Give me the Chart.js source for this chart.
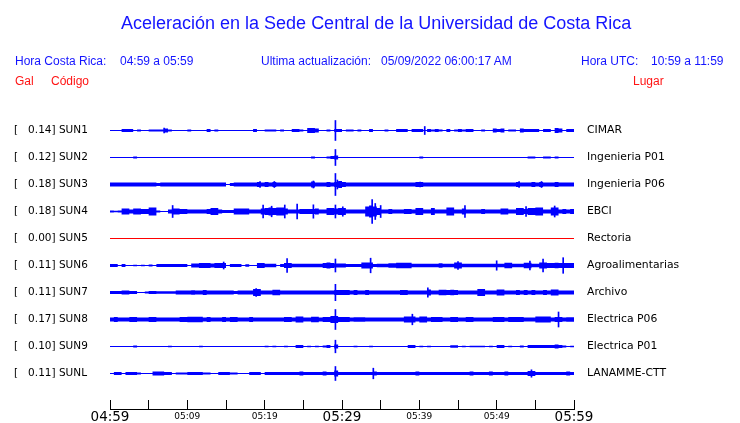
<!DOCTYPE html>
<html>
<head>
<meta charset="utf-8">
<script src="https://cdn.jsdelivr.net/npm/chart.js@4.4.0/dist/chart.umd.min.js"></script>
<style>
  body { margin: 0; background: #fff; }
  #wrap { position: relative; width: 740px; height: 423px; overflow: hidden; }
  #sismo { position: absolute; left: 0; top: 0; }
  .t { position: absolute; white-space: nowrap; line-height: 1; font-family: "Liberation Sans", Arial, sans-serif; }
  .azul { color: #1414ff; font-size: 12px; }
  .rojo { color: #ff1414; font-size: 12px; }
</style>
</head>
<body>
<div id="wrap">
  <canvas id="sismo" width="740" height="423"></canvas>
  <div class="t" style="left:121px;top:14px;font-size:18px;color:#1414ff">Aceleración en la Sede Central de la Universidad de Costa Rica</div>
  <div class="t azul" style="left:15px;top:55px">Hora Costa Rica:</div>
  <div class="t azul" style="left:120px;top:55px">04:59 a 05:59</div>
  <div class="t azul" style="left:261px;top:55px">Ultima actualización:</div>
  <div class="t azul" style="left:381px;top:55px">05/09/2022 06:00:17 AM</div>
  <div class="t azul" style="left:581px;top:55px">Hora UTC:</div>
  <div class="t azul" style="left:651px;top:55px">10:59 a 11:59</div>
  <div class="t rojo" style="left:15px;top:75px">Gal</div>
  <div class="t rojo" style="left:51px;top:75px">Código</div>
  <div class="t rojo" style="left:633px;top:75px">Lugar</div>
</div>
<script>
// estaciones
const codes = ['SUN1', 'SUN2', 'SUN3', 'SUN4', 'SUN5', 'SUN6', 'SUN7', 'SUN8', 'SUN9', 'SUNL'];
const peaks = ['0.14', '0.12', '0.18', '0.18', '0.00', '0.11', '0.11', '0.17', '0.10', '0.11'];
const places = ['CIMAR', 'Ingenieria P01', 'Ingenieria P06', 'EBCI', 'Rectoria', 'Agroalimentarias',
  'Archivo', 'Electrica P06', 'Electrica P01', 'LANAMME-CTT'];
const traceColors = ['#0000ff', '#0000ff', '#0000ff', '#0000ff', '#ff0000', '#0000ff', '#0000ff', '#0000ff', '#0000ff', '#0000ff'];

// eje de tiempo (minutos desde 04:59)
const tickMinutes = [0, 5, 10, 15, 20, 25, 30, 35, 40, 45, 50, 55, 60];
const tickLabels = ['04:59', '', '05:09', '', '05:19', '', '05:29', '', '05:39', '', '05:49', '', '05:59'];
const bigTicks = [0, 30, 60];

// envolvente de cada traza, medio alto en px, bloques de 30 s
const binMinutes = 0.5;
const sun1Amp = [
  0, 0, 0, 1.5, 1.5, 1.5, 0, 1, 0, 0, 1, 1, 1, 1, 2, 1, 0, 0, 0, 0,
  1, 0, 0, 0, 0, 1.5, 0, 1, 0, 0, 0, 0, 0, 0, 0, 0, 0, 1.5, 0, 0,
  1, 1, 1, 0, 1, 0, 0, 1.5, 1.5, 1, 0, 2.5, 2.5, 2, 0, 0, 1, 0, 1.5, 1.5,
  0, 1, 1, 0, 1, 0, 0, 1.5, 0, 0, 0, 1, 0, 0, 1.5, 1.5, 1.5, 0, 1.5, 1.5,
  1.5, 0, 1.5, 1, 1.5, 1, 0, 1.5, 0, 1, 1.5, 1, 1.5, 1.5, 0, 0, 1, 0, 0, 2,
  1.5, 2, 0, 1, 1, 0, 2, 1.5, 1.5, 1.5, 1.5, 0, 1.5, 1.5, 0, 2.5, 2, 0, 1.5, 1.5
];
const sun2Amp = [
  0, 0, 0, 0, 0, 0, 1, 0, 0, 0, 0, 0, 0, 0, 0, 0, 0, 0, 0, 0,
  0, 0, 0, 0, 0, 0, 0, 0, 0, 0, 0, 0, 0, 0, 0, 0, 0, 0, 0, 0,
  0, 0, 0, 0, 0, 0, 0, 0, 0, 0, 0, 0, 1, 0, 0, 0, 1, 1.5, 2, 0,
  0, 0, 0, 0, 0, 0, 0, 0, 0, 0, 0, 0, 0, 0, 0, 0, 0, 0, 0, 0,
  1, 0, 0, 0, 0, 0, 0, 0, 0, 0, 0, 0, 0, 0, 0, 0, 0, 0, 0, 0,
  0, 0, 0, 0, 0, 0, 0, 0, 1, 1, 0, 0, 1, 1, 0, 1, 0, 0, 0, 0
];
const sun3Amp = [
  2, 2, 2, 2, 2, 2, 2, 2, 2, 2, 2, 2, 1.5, 2, 2, 2, 2, 2, 2, 2,
  2, 2, 2, 2, 2, 2, 2, 2, 2, 2, 0, 1.5, 2, 2, 2, 2, 2, 2, 2.5, 2,
  2.5, 2, 2.5, 2, 2, 2, 2, 2, 2, 2, 2, 2, 3, 2, 2, 2, 2.5, 2, 2.5, 3.5,
  2.5, 2, 2, 2, 2, 2, 2, 2, 2, 2, 2, 2, 2, 2, 2, 2, 2, 2, 2, 2.5,
  2.5, 2, 2, 2, 2, 2, 2, 2, 2, 2, 2, 2, 2, 2, 2, 2, 2, 2, 2, 2,
  2, 2, 2, 2, 2, 2.5, 2, 2, 2, 2.5, 2, 2.5, 2, 2, 2, 2.5, 2, 2, 2, 2
];
const sun4Amp = [
  1, 0.8, 1, 3, 3, 2, 3, 3, 2.5, 2.5, 4, 4, 1, 0.5, 0.5, 2, 3, 3, 2.5, 2.5,
  2, 2, 2, 2, 2, 2.5, 3.5, 3.5, 2, 1.5, 1.5, 1.5, 3, 3, 3, 3, 2, 2, 2, 3,
  3.5, 4, 3.5, 4, 4, 3, 2, 2, 2, 2.5, 2.5, 2.5, 2.5, 3, 2, 2, 3.5, 3.5, 3, 3.5,
  3.5, 2, 2, 2, 2, 2, 5, 6, 5, 3.5, 2, 2, 2.5, 2, 2, 2, 2.5, 2.5, 2, 3.5,
  3.5, 2, 2, 3.5, 2, 2, 2, 4, 4, 2, 2, 3, 2, 2, 2, 2, 2.5, 2, 2, 2,
  2, 3, 3, 2, 2, 3.5, 3.5, 2.5, 3.5, 3.5, 4, 4, 2, 2, 4, 4, 2, 2.5, 2, 2.5
];
const sun5Amp = [
  0, 0, 0, 0, 0, 0, 0, 0, 0, 0, 0, 0, 0, 0, 0, 0, 0, 0, 0, 0,
  0, 0, 0, 0, 0, 0, 0, 0, 0, 0, 0, 0, 0, 0, 0, 0, 0, 0, 0, 0,
  0, 0, 0, 0, 0, 0, 0, 0, 0, 0, 0, 0, 0, 0, 0, 0, 0, 0, 0, 0,
  0, 0, 0, 0, 0, 0, 0, 0, 0, 0, 0, 0, 0, 0, 0, 0, 0, 0, 0, 0,
  0, 0, 0, 0, 0, 0, 0, 0, 0, 0, 0, 0, 0, 0, 0, 0, 0, 0, 0, 0,
  0, 0, 0, 0, 0, 0, 0, 0, 0, 0, 0, 0, 0, 0, 0, 0, 0, 0, 0, 0
];
const sun6Amp = [
  1.5, 1.5, 0, 1.5, 0, 0, 0.8, 0, 0.8, 0, 1, 0, 1.5, 1.5, 1.5, 1.5, 1.5, 1.5, 1.5, 1.5,
  0, 2, 2, 2.5, 2.5, 2.5, 2, 2.5, 2.5, 2.5, 0, 1.5, 1.5, 1.5, 0, 1.2, 0, 0, 2.5, 2.5,
  1.8, 1.8, 1.8, 0, 1.5, 2.5, 2.5, 1.8, 1.8, 1.8, 1.8, 1.8, 1.8, 1.8, 1.8, 2.5, 3, 2.5, 2, 2,
  2, 1.5, 1.5, 1.5, 1.5, 3, 3, 3, 1.5, 1.8, 1.8, 1.8, 2.2, 2.2, 2.8, 2.8, 2.8, 2.8, 1.8, 1.8,
  1.8, 1.8, 1.8, 1.8, 1.8, 2.2, 1.8, 1.8, 1.8, 3, 3, 1.8, 1.8, 1.8, 1.8, 1.8, 1.8, 1.8, 1.8, 1.8,
  1.8, 1.8, 2.8, 2.8, 1.8, 1.8, 1.8, 2.8, 2.8, 1.8, 1.8, 3, 3, 2.5, 2.5, 2.8, 2.5, 2.5, 2.5, 2.5
];
const sun7Amp = [
  1.5, 1.5, 1.5, 2, 2, 1.5, 1.5, 0, 0, 1, 1.5, 1.5, 1.3, 1.3, 1.3, 1.3, 1.3, 2, 2, 2,
  2, 2.3, 2, 2, 2.5, 2, 2, 2, 2, 2, 2, 2, 1.5, 2, 2, 2, 2, 3.5, 3.5, 2,
  2, 2, 2.8, 2.8, 2, 2, 2, 2, 2, 2, 2, 2, 2, 2, 2, 2, 2, 2, 2.5, 2.5,
  2.5, 2.5, 2, 2.5, 2, 2, 2.5, 2, 2, 2, 2, 2, 2, 2, 2, 2.5, 2.5, 2, 2, 2,
  2, 2, 3, 2, 2, 2.8, 2.8, 2.5, 2.8, 2.5, 2, 2, 2, 2, 2, 3.5, 3.5, 2, 2, 2,
  3, 3, 2, 2, 2, 2.5, 2, 2.5, 2, 2.5, 2, 2, 2.5, 2, 3, 3, 2, 2, 2, 2
];
const sun8Amp = [
  2, 2.5, 2, 2, 2, 2.5, 2.5, 2, 2, 2, 2.5, 2.5, 2, 2, 2, 2, 2, 2, 2.5, 2.5,
  2.8, 2.8, 2.8, 2.8, 2, 2.5, 2, 2, 2, 2.5, 2, 2.5, 2.5, 2, 2, 2, 2.5, 2, 2, 2,
  2, 2, 2, 2, 2, 2.5, 2.5, 2, 3, 3, 2, 2, 2.8, 2.8, 2, 2.5, 2.5, 3.5, 3.5, 2.5,
  2.5, 2.5, 2, 2.3, 2.3, 2.3, 2, 2, 2, 2, 2, 2, 2, 2, 2, 2, 3, 3, 3, 2,
  3, 3, 2, 2.5, 2.5, 2.5, 2, 2, 2.5, 2.5, 2, 2, 2.5, 2.5, 2, 2, 2, 2, 2, 2.5,
  2.5, 2.5, 2, 2.5, 2.5, 2.5, 2.5, 2, 2, 2, 3, 3, 3, 3, 2, 2.5, 2.5, 2, 2.3, 2.3
];
const sun9Amp = [
  0, 0, 0, 0, 0, 0, 1, 0, 0, 0, 0, 0, 0, 0, 0, 0.8, 0, 0, 0, 0,
  0, 0, 0, 0.8, 0, 0, 0, 0, 0, 0, 0, 0, 0, 0, 0, 0, 0, 0, 0, 0,
  0.8, 0, 0.8, 0, 0, 0.8, 0, 0, 1.5, 1.5, 0, 0.8, 0, 0.8, 0, 1, 1.5, 0, 2, 0,
  0, 0, 0, 0.8, 0, 0, 0, 0.8, 0, 0, 0, 0, 0, 0, 0, 0, 0, 1.5, 1.5, 0,
  0.8, 0, 0.8, 0, 0, 0, 0, 0, 1.2, 1.2, 0, 0.8, 0, 0.8, 0.8, 0.8, 0.8, 0, 0.8, 0,
  1.5, 1.5, 0, 0.8, 0, 0, 1, 0, 1.5, 1.5, 1.5, 1.5, 1.5, 1.5, 1.5, 2, 1.5, 1, 0, 0.8
];
const sunLAmp = [
  0, 1.5, 1.5, 0, 1.5, 1.5, 1.5, 1, 0, 0, 0, 2, 2, 2, 1.5, 1.5, 0, 1, 1, 1,
  1.5, 1.5, 1.5, 1.5, 1, 1, 0, 0, 1.5, 1.5, 1.5, 1, 1, 0, 0, 0, 1.5, 1.5, 1.5, 0,
  1.5, 1.5, 1.5, 1.5, 1.5, 1.5, 1.5, 1.5, 1.5, 2, 1.5, 1.5, 1.5, 1.5, 1.5, 2, 1.5, 1.5, 3, 1.5,
  1.5, 1.5, 1.5, 1.5, 1.5, 1.5, 1.5, 1.5, 2, 1.5, 1.5, 1.5, 1.5, 1.5, 1.5, 1.5, 1.5, 1.5, 1.5, 2,
  1.5, 1.5, 1.5, 1.5, 1.5, 1.5, 1.5, 1.5, 1.5, 1.5, 1.5, 1.5, 1.5, 2, 1.5, 1.5, 1.5, 1.5, 2, 1.5,
  1.5, 1.5, 2, 1.5, 1.5, 1.5, 1.5, 1.5, 2.5, 2.5, 1.5, 1.5, 1.5, 1.5, 1.5, 1.5, 1.5, 1.5, 2, 1.5
];
const ampByTrace = [sun1Amp, sun2Amp, sun3Amp, sun4Amp, sun5Amp, sun6Amp, sun7Amp, sun8Amp, sun9Amp, sunLAmp];

// picos finos: [minuto, medio alto px]
const sun1Spikes = [[7.0, 2.5], [29.15, 10], [40.7, 4]];
const sun2Spikes = [[29.15, 8]];
const sun3Spikes = [[19.4, 3], [21.25, 3], [26.3, 3.5], [29.15, 11], [29.4, 4.5], [40.1, 2.5], [52.9, 3], [55.8, 3]];
const sun4Spikes = [[8.1, 6], [19.8, 6.5], [20.9, 5.3], [22.6, 6.5], [24.2, 7.3], [26.3, 6.7], [29.15, 6.5], [30.1, 4.7],
  [33.9, 12], [34.3, 8], [35.0, 6], [45.9, 6], [53.8, 5], [57.5, 5.5]];
const sun5Spikes = [];
const sun6Spikes = [[14.7, 3.5], [22.9, 7], [29.15, 6.5], [33.7, 7.3], [45.0, 4], [50.0, 4.7], [54.3, 4.5], [56.0, 6.5], [58.6, 7.8]];
const sun7Spikes = [[18.9, 4], [29.15, 8.2], [41.1, 4.7]];
const sun8Spikes = [[29.15, 10], [39.1, 5.3], [58.0, 7.5]];
const sun9Spikes = [[29.15, 6.3]];
const sunLSpikes = [[29.15, 7], [34.05, 5.3], [54.5, 3.7]];
const spikesByTrace = [sun1Spikes, sun2Spikes, sun3Spikes, sun4Spikes, sun5Spikes, sun6Spikes, sun7Spikes, sun8Spikes, sun9Spikes, sunLSpikes];

// geometria del grafico
const chartTop = 117, chartBottom = 409, chartLeft = 110, chartRight = 574;
const leftPad = 14;
const pxPerTrace = 27;
const yMin = -0.5;
const yMax = yMin + (chartBottom - chartTop) / pxPerTrace;

function envelope(amp, k, sign) {
  const pts = amp.map((a, i) => ({ x: i * binMinutes, y: k + sign * Math.max(a, 0.5) / pxPerTrace }));
  pts.push({ x: 60, y: pts[pts.length - 1].y });
  return pts;
}

const datasets = [];
ampByTrace.forEach((amp, k) => {
  datasets.push({
    type: 'line', data: envelope(amp, k, -1), stepped: true,
    borderColor: 'rgba(0,0,0,0)', borderWidth: 0, pointRadius: 0, fill: false
  });
  datasets.push({
    type: 'line', data: envelope(amp, k, 1), stepped: true,
    borderColor: 'rgba(0,0,0,0)', borderWidth: 0, pointRadius: 0,
    fill: '-1', backgroundColor: traceColors[k]
  });
});

const spikeData = [];
spikesByTrace.forEach((list, k) => {
  list.forEach(([m, h]) => spikeData.push({ x: m, y: [k - h / pxPerTrace, k + h / pxPerTrace] }));
});
datasets.push({
  type: 'bar', data: spikeData, backgroundColor: '#0000ff',
  barThickness: 1, grouped: false, borderWidth: 0
});

const traceTicks = s => { s.ticks = codes.map((_, i) => ({ value: i })); };
// sin relleno extra alrededor del area del grafico
const noPad = s => { s.paddingTop = 0; s.paddingBottom = 0; s.paddingLeft = 0; s.paddingRight = 0; };

new Chart(document.getElementById('sismo'), {
  type: 'line',
  data: { datasets: datasets },
  options: {
    responsive: false,
    animation: false,
    devicePixelRatio: 1,
    layout: { padding: { top: chartTop, left: leftPad, right: 0, bottom: 0 } },
    plugins: { legend: { display: false }, tooltip: { enabled: false }, title: { display: false } },
    scales: {
      x: {
        type: 'linear', min: 0, max: 60, offset: false,
        afterBuildTicks: s => { s.ticks = tickMinutes.map(v => ({ value: v })); },
        afterFit: s => { noPad(s); s.height = 423 - chartBottom; },
        ticks: {
          autoSkip: false, maxRotation: 0, padding: 9, color: '#000',
          callback: v => tickLabels[tickMinutes.indexOf(v)],
          font: ctx => (ctx.tick && bigTicks.includes(ctx.tick.value))
            ? { family: 'DejaVu Sans', size: 13.5, lineHeight: '16px' }
            : { family: 'DejaVu Sans', size: 9, lineHeight: '14.6px' }
        },
        grid: { offset: false, drawOnChartArea: false, drawTicks: true, tickLength: -9, color: '#000', lineWidth: 1 },
        border: { display: true, color: '#000', width: 1 }
      },
      y: {
        type: 'linear', position: 'left', reverse: true, min: yMin, max: yMax,
        afterBuildTicks: traceTicks,
        afterFit: s => { noPad(s); s.width = chartLeft - leftPad; },
        ticks: {
          autoSkip: false, crossAlign: 'far', color: '#000',
          font: { family: 'DejaVu Sans', size: 10.5 },
          callback: v => '[   ' + peaks[v] + '] ' + codes[v]
        },
        grid: { display: false, drawTicks: false },
        border: { display: false }
      },
      yR: {
        type: 'linear', position: 'right', reverse: true, min: yMin, max: yMax,
        afterBuildTicks: traceTicks,
        afterFit: s => { noPad(s); s.width = 740 - chartRight; },
        ticks: {
          autoSkip: false, padding: 13, color: '#000',
          font: { family: 'DejaVu Sans', size: 10.8 },
          callback: v => places[v]
        },
        grid: { display: false, drawTicks: false },
        border: { display: false }
      }
    }
  }
});
</script>
</body>
</html>
